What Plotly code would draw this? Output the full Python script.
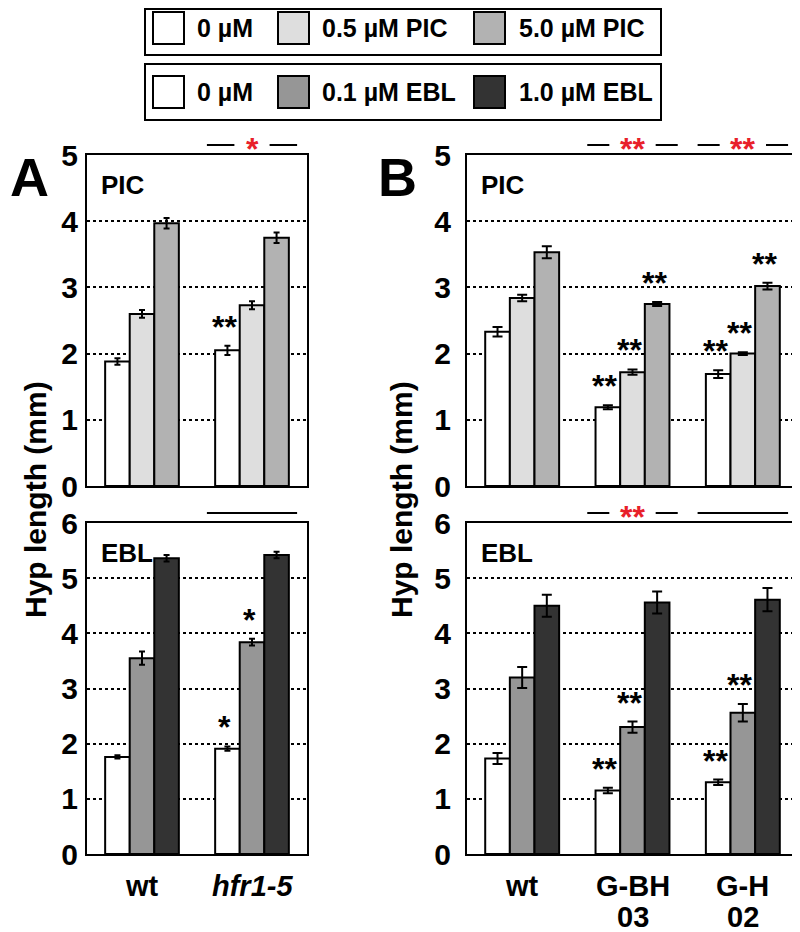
import plotly.graph_objects as go

# ---------------- data ----------------
cats_A = ["wt", "<i>hfr1-5</i>"]
cats_B = ["wt", "G-BH<br>03", "G-H<br>02"]

pic_labels = ["0 µM", "0.5 µM PIC", "5.0 µM PIC"]
ebl_labels = ["0 µM", "0.1 µM EBL", "1.0 µM EBL"]
pic_colors = ["#ffffff", "#dedede", "#b2b2b2"]
ebl_colors = ["#ffffff", "#969696", "#333333"]

# Panel A, PIC  (rows: treatments, cols: genotypes)
A_pic_vals = [[1.88, 2.05], [2.60, 2.73], [3.97, 3.75]]
A_pic_errs = [[0.05, 0.07], [0.06, 0.06], [0.08, 0.08]]
A_pic_sig = [["", "**"], ["", ""], ["", ""]]
# Panel A, EBL
A_ebl_vals = [[1.76, 1.91], [3.55, 3.84], [5.36, 5.42]]
A_ebl_errs = [[0.03, 0.04], [0.12, 0.06], [0.06, 0.06]]
A_ebl_sig = [["", "*"], ["", "*"], ["", ""]]
# Panel B, PIC
B_pic_vals = [[2.33, 1.19, 1.69], [2.84, 1.72, 2.00], [3.53, 2.75, 3.02]]
B_pic_errs = [[0.07, 0.03, 0.06], [0.05, 0.04, 0.02], [0.09, 0.03, 0.05]]
B_pic_sig = [["", "**", "**"], ["", "**", "**"], ["", "**", "**"]]
# Panel B, EBL
B_ebl_vals = [[1.73, 1.15, 1.30], [3.20, 2.30, 2.56], [4.50, 4.56, 4.61]]
B_ebl_errs = [[0.10, 0.05, 0.05], [0.19, 0.10, 0.16], [0.20, 0.20, 0.21]]
B_ebl_sig = [["", "**", "**"], ["", "**", "**"], ["", "", ""]]

# interaction significance above panels (per genotype): label, "" = plain line, None = nothing
A_pic_int = [None, "*"]
A_ebl_int = [None, ""]
B_pic_int = [None, "**", "**"]
B_ebl_int = [None, "**", ""]

# ---------------- layout helpers ----------------
# the page body has an 8px margin, so the figure is 792x924 and page coords are offset by 8
OFF = 8
W, H = 800 - OFF, 932 - OFF
def px(x):
    return (x - OFF) / W
def py(y):
    return 1 - (y - OFF) / H

FONT = "Liberation Sans, Arial, Helvetica, sans-serif"
NARROW = "Liberation Sans Narrow, Arial Narrow, Liberation Sans, Arial, sans-serif"
BARGAP = 0.33
bw = (1 - BARGAP) / 3  # bar width in category units

panels = [
    ("PIC", cats_A, A_pic_vals, A_pic_errs, A_pic_sig, A_pic_int, pic_colors, "x", "y", (87, 307), (155, 486), 5, False, 3, 1),
    ("EBL", cats_A, A_ebl_vals, A_ebl_errs, A_ebl_sig, A_ebl_int, ebl_colors, "x2", "y2", (87, 307), (523, 854), 6, True, 3, 1),
    ("PIC", cats_B, B_pic_vals, B_pic_errs, B_pic_sig, B_pic_int, pic_colors, "x3", "y3", (467, 798), (155, 486), 5, False, 5, 8),
    ("EBL", cats_B, B_ebl_vals, B_ebl_errs, B_ebl_sig, B_ebl_int, ebl_colors, "x4", "y4", (467, 798), (523, 854), 6, True, 5, 8),
]

fig = go.Figure()
annotations = []
shapes = []
layout_axes = {}

for (name, cats, vals, errs, sig, inter, colors, xa, ya, xd, yd, ymax, showx, capw, ystand) in panels:
    for j in range(3):
        fig.add_trace(go.Bar(
            x=cats, y=vals[j], xaxis=xa, yaxis=ya,
            marker=dict(color=colors[j], line=dict(color="black", width=2)),
            error_y=dict(type="data", array=errs[j], color="black", thickness=2, width=capw),
            showlegend=False, hoverinfo="skip",
        ))
        for i, s in enumerate(sig[j]):
            if s:
                annotations.append(dict(
                    x=i + (j - 1) * bw, y=vals[j][i] + errs[j][i], xref=xa, yref=ya,
                    text="<b>%s</b>" % s, showarrow=False, yanchor="bottom", xshift=-3, yshift=-1,
                    font=dict(family=FONT, size=32, color="black"),
                ))
    # category labels below bottom panels (one annotation per text line)
    if showx:
        for i, c in enumerate(cats):
            for k, part in enumerate(c.split("<br>")):
                annotations.append(dict(
                    x=i, y=py(886 + 31 * k), xref=xa, yref="paper", text="<b>%s</b>" % part,
                    showarrow=False, xanchor="center", yanchor="middle",
                    font=dict(family=FONT, size=29, color="black"),
                ))
    # interaction brackets
    line_y = py(yd[0] - 10)
    for i, s in enumerate(inter):
        if s is None:
            continue
        half = 0.41
        if s == "":
            shapes.append(dict(type="line", xref=xa, yref="paper", x0=i - half, x1=i + half,
                               y0=line_y, y1=line_y, line=dict(color="black", width=2)))
        else:
            gap = 0.16 if len(s) == 1 else 0.21
            for (a, b) in [(i - half, i - gap), (i + gap, i + half)]:
                shapes.append(dict(type="line", xref=xa, yref="paper", x0=a, x1=b,
                                   y0=line_y, y1=line_y, line=dict(color="black", width=2)))
            annotations.append(dict(x=i, y=line_y, xref=xa, yref="paper", text="<b>%s</b>" % s,
                                    showarrow=False, yanchor="middle", yshift=-4,
                                    font=dict(family=FONT, size=32, color="#e8202a")))
    # panel label
    annotations.append(dict(x=px(xd[0] + 12), y=py(yd[0] + 30), xref="paper", yref="paper",
                            text="<b>%s</b>" % name, showarrow=False, xanchor="left", yanchor="middle",
                            font=dict(family=FONT, size=26, color="black")))
    axn = xa.replace("x", "xaxis")
    ayn = ya.replace("y", "yaxis")
    layout_axes[axn] = dict(
        domain=[px(xd[0]), px(xd[1])], anchor=ya, type="category", automargin=False,
        showline=True, mirror=True, linecolor="black", linewidth=2,
        ticks="", showgrid=False, showticklabels=False, fixedrange=True,
    )
    layout_axes[ayn] = dict(
        domain=[py(yd[1]), py(yd[0])], anchor=xa, range=[0, ymax], dtick=1, automargin=False,
        showline=True, mirror=True, linecolor="black", linewidth=2,
        ticks="", showgrid=True, gridcolor="black", griddash="dot", gridwidth=1.5,
        zeroline=False, fixedrange=True,
        tickfont=dict(family=FONT, size=30, color="black", weight="bold"),
        ticklabelstandoff=ystand,
    )

# big panel letters and y titles
for (letter, lx, tx) in [("A", 8, 36), ("B", 376, 402)]:
    annotations.append(dict(x=px(lx), y=py(177), xref="paper", yref="paper", text="<b>%s</b>" % letter,
                            showarrow=False, xanchor="left", yanchor="middle",
                            font=dict(family=NARROW, size=54, color="black")))
    annotations.append(dict(x=px(tx), y=py(500), xref="paper", yref="paper", text="<b>Hyp length (mm)</b>",
                            showarrow=False, textangle=-90, xanchor="center", yanchor="middle",
                            font=dict(family=FONT, size=30, color="black")))

# legend boxes
legend_rows = [(pic_labels, pic_colors, 9, 55), (ebl_labels, ebl_colors, 64, 120)]
sw_x = [153, 278, 474]
txt_x = [195, 320, 517]
for (labels, colors, y0, y1) in legend_rows:
    shapes.append(dict(type="rect", xref="paper", yref="paper", x0=px(145), x1=px(661),
                       y0=py(y1), y1=py(y0), line=dict(color="black", width=2), fillcolor="rgba(0,0,0,0)"))
    yc = (y0 + y1) / 2 if y0 > 10 else 28
    for k in range(3):
        shapes.append(dict(type="rect", xref="paper", yref="paper", x0=px(sw_x[k]), x1=px(sw_x[k] + 31),
                           y0=py(yc + 16), y1=py(yc - 16), line=dict(color="black", width=2),
                           fillcolor=colors[k]))
        annotations.append(dict(x=px(txt_x[k]), y=py(yc), xref="paper", yref="paper",
                                text="<b>%s</b>" % labels[k], showarrow=False, xanchor="left",
                                yanchor="middle", font=dict(family=FONT, size=25, color="black")))

fig.update_layout(
    width=W, height=H, margin=dict(l=0, r=0, t=0, b=0, autoexpand=False),
    paper_bgcolor="white", plot_bgcolor="white",
    barmode="group", bargap=BARGAP, bargroupgap=0,
    annotations=annotations, shapes=shapes, showlegend=False,
    font=dict(family=FONT),
    **layout_axes,
)

fig.write_html("out.html")
